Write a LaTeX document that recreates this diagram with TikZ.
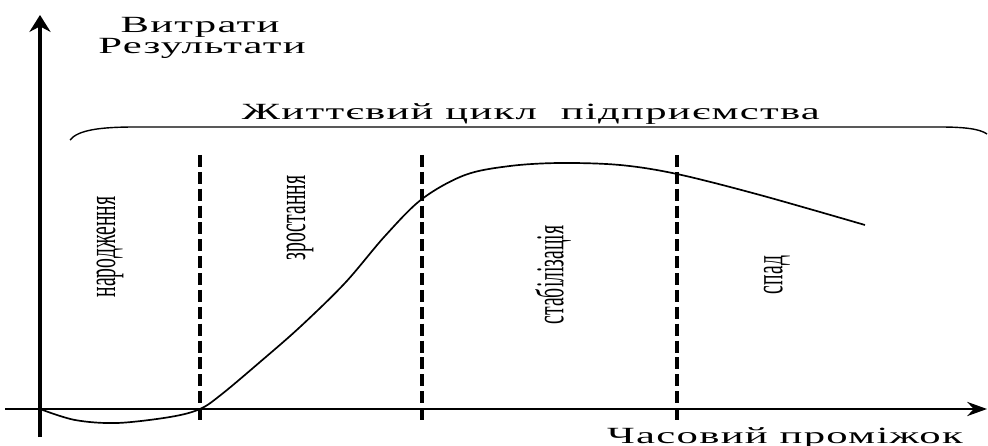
\documentclass[tikz,border=0pt]{standalone}
\usepackage{fontspec}
\setmainfont{Liberation Serif}
\usepackage{graphicx}
\usetikzlibrary{arrows.meta}

\newcommand\wide[1]{\scalebox{1.84}[1]{\addfontfeature{LetterSpace=3}#1}}
\newcommand\narrow[1]{\scalebox{.5}[1]{#1}}

\begin{document}
\begin{tikzpicture}[x=.025cm,y=-.025cm,
 bd/.style={line width=3pt,dash pattern=on 8.5pt off 3.5pt},
 t/.style={font=\fontsize{16.5}{16.5}\selectfont,anchor=base,inner sep=0pt},
 ph/.style={rotate=90,font=\fontsize{28}{28}\selectfont,inner sep=0pt}]
\useasboundingbox (0,0) rectangle (988,446);
% axes
\coordinate (O) at (40,409);
\coordinate (yb) at (40,437);
\coordinate (yt) at (40,15);
\coordinate (xl) at (5,409);
\coordinate (xr) at (987,409);
\draw[-{Stealth[length=12pt,width=15pt]},line width=3pt] (yb)--(yt);
\draw[-{Stealth[length=14pt,width=10pt]},line width=2pt] (xl)--(xr);
\node[t] (vyt) at (200,33) {\wide{Витрати}};
\node[t] (rez) at (202,54) {\wide{Результати}};
\node[t] (chas) at (785,443) {\wide{Часовий проміжок}};
% brace over the stages
\draw[line width=1pt] (70,140) .. controls (78,130) and (100,127) .. (135,127) -- (940,127)
 .. controls (965,127) and (980,129) .. (987,134);
\node[t] (zh) at (531,120) {\wide{Життєвий цикл\ \ підприємства}};
% stage borders
\foreach \x/\n in {200/d1,422/d2,677/d3}
 \draw[bd] (\x,155) coordinate (\n) -- (\x,423);
\node[ph] (nar) at (110,247) {\narrow{народження}};
\node[ph] (zro) at (300,218) {\narrow{зростання}};
\node[ph] (sta) at (553,275) {\narrow{стабілізація}};
\node[ph] (spa) at (777,275) {\narrow{спад}};
% life curve
\draw[line width=1.2pt] plot[smooth,tension=.55] coordinates {(O) (75,420) (117,423) (170,417) (200,409)
 (222,394) (260,362) (300,327) (345,283) (385,236) (422,199) (465,175) (510,166) (560,163)
 (620,165) (677,174) (760,195) (865,225)};
\end{tikzpicture}
\end{document}
